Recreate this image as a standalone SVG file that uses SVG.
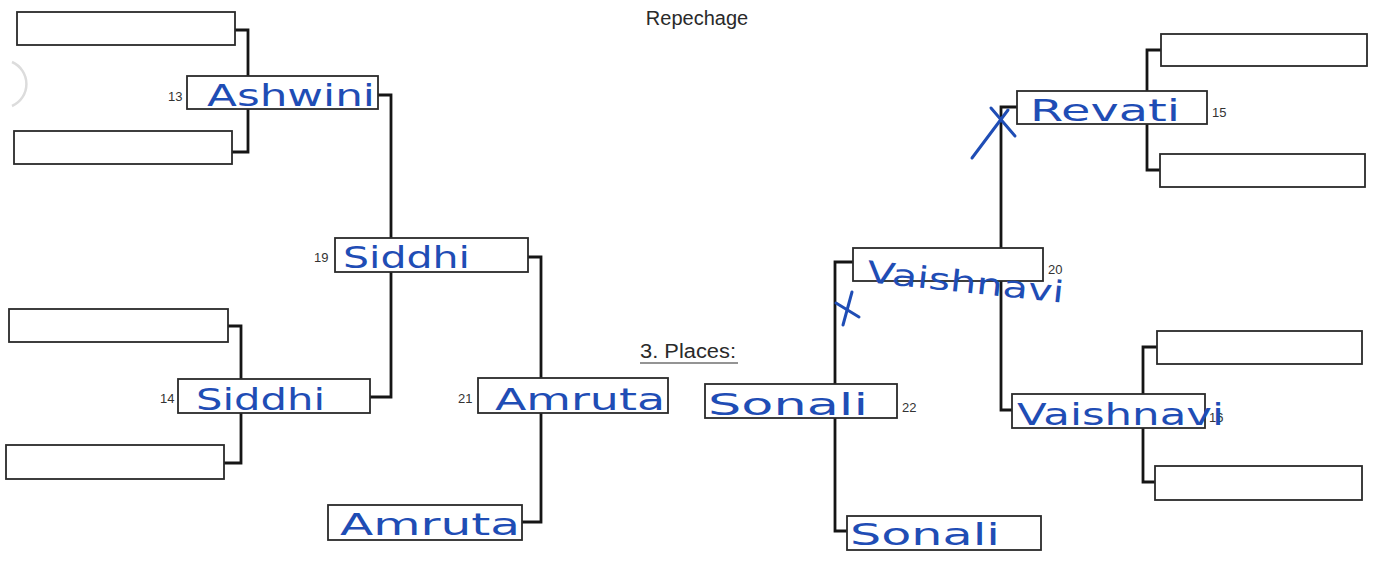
<svg xmlns="http://www.w3.org/2000/svg" width="1383" height="562" viewBox="0 0 1383 562">
<style>
.box{fill:#fff;stroke:#2a2a2a;stroke-width:1.8}
.con{fill:none;stroke:#151515;stroke-width:2.8;stroke-linejoin:miter}
.num{font-family:"Liberation Sans",Arial,sans-serif;font-size:13px;fill:#333}
.title{font-family:"Liberation Sans",Arial,sans-serif;font-size:20px;fill:#2a2a2a}
.hand{font-family:"DejaVu Sans","Liberation Sans",sans-serif;font-size:30px;fill:#1f4db5}
.mark{fill:none;stroke:#1f4db5;stroke-width:3;stroke-linecap:round}
</style>
<rect width="1383" height="562" fill="#fff"/>
<path d="M12,62 A24,24 0 0 1 12,106" fill="none" stroke="#dcdcdc" stroke-width="2.5"/>
<text class="title" x="697" y="25" text-anchor="middle">Repechage</text>
<text class="title" x="640" y="358" textLength="96" lengthAdjust="spacingAndGlyphs">3. Places:</text>
<line x1="640" y1="363" x2="738" y2="363" stroke="#2a2a2a" stroke-width="1.2"/>
<g id="connectors">
<path class="con" d="M235,30 H248 V152 H232"/>
<path class="con" d="M378,95 H391 V397 H370"/>
<path class="con" d="M228,326 H241 V463 H224"/>
<path class="con" d="M528,257 H541 V522 H522"/>
<path class="con" d="M1161,50 H1147 V170 H1160"/>
<path class="con" d="M1017,107 H1001 V410 H1012"/>
<path class="con" d="M1157,347 H1143 V482 H1155"/>
<path class="con" d="M853,262 H835 V531 H847"/>
</g>
<g id="node-l1"><rect class="box" x="17" y="12" width="218" height="33"/></g>
<g id="node-l2"><rect class="box" x="14" y="131" width="218" height="33"/></g>
<g id="node-13"><rect class="box" x="187" y="76" width="191" height="33"/><text class="num" x="168" y="101">13</text><text class="hand" x="207" y="106" textLength="168" lengthAdjust="spacingAndGlyphs">Ashwini</text></g>
<g id="node-19"><rect class="box" x="335" y="238" width="193" height="34"/><text class="num" x="314" y="262">19</text><text class="hand" x="343" y="268" textLength="127" lengthAdjust="spacingAndGlyphs">Siddhi</text></g>
<g id="node-l3"><rect class="box" x="9" y="309" width="219" height="33"/></g>
<g id="node-14"><rect class="box" x="178" y="379" width="192" height="34"/><text class="num" x="160" y="403">14</text><text class="hand" x="196" y="410" textLength="129" lengthAdjust="spacingAndGlyphs">Siddhi</text></g>
<g id="node-l4"><rect class="box" x="6" y="445" width="218" height="34"/></g>
<g id="node-21"><rect class="box" x="478" y="378" width="190" height="35"/><text class="num" x="458" y="403">21</text><text class="hand" x="495" y="410" textLength="170" lengthAdjust="spacingAndGlyphs">Amruta</text></g>
<g id="node-l5"><rect class="box" x="328" y="505" width="194" height="35"/><text class="hand" x="340" y="535" textLength="180" lengthAdjust="spacingAndGlyphs">Amruta</text></g>
<g id="node-r1"><rect class="box" x="1161" y="34" width="206" height="32"/></g>
<g id="node-15"><rect class="box" x="1017" y="91" width="190" height="33"/><text class="num" x="1212" y="117">15</text><text class="hand" x="1030" y="121" textLength="150" lengthAdjust="spacingAndGlyphs">Revati</text></g>
<g id="node-r2"><rect class="box" x="1160" y="154" width="205" height="33"/></g>
<g id="node-20"><rect class="box" x="853" y="248" width="190" height="33"/><text class="num" x="1048" y="274">20</text><text class="hand" x="866" y="282" textLength="198" lengthAdjust="spacingAndGlyphs" transform="rotate(6 866 282)">Vaishnavi</text></g>
<g id="node-r3"><rect class="box" x="1157" y="331" width="205" height="33"/></g>
<g id="node-22"><rect class="box" x="705" y="384" width="192" height="34"/><text class="num" x="902" y="412">22</text><text class="hand" x="708" y="415" textLength="160" lengthAdjust="spacingAndGlyphs">Sonali</text></g>
<g id="node-16"><rect class="box" x="1012" y="394" width="193" height="34"/><text class="num" x="1209" y="422">16</text><text class="hand" x="1017" y="425" textLength="207" lengthAdjust="spacingAndGlyphs">Vaishnavi</text></g>
<g id="node-r4"><rect class="box" x="1155" y="466" width="207" height="34"/></g>
<g id="node-sonali"><rect class="box" x="847" y="516" width="194" height="34"/><text class="hand" x="850" y="545" textLength="150" lengthAdjust="spacingAndGlyphs">Sonali</text></g>
<g id="marks">
<path class="mark" d="M972,158 L1008,110"/>
<path class="mark" d="M991,108 L1015,136"/>
<path class="mark" d="M843,325 L852,292"/>
<path class="mark" d="M836,303 L859,317"/>
</g>
</svg>
